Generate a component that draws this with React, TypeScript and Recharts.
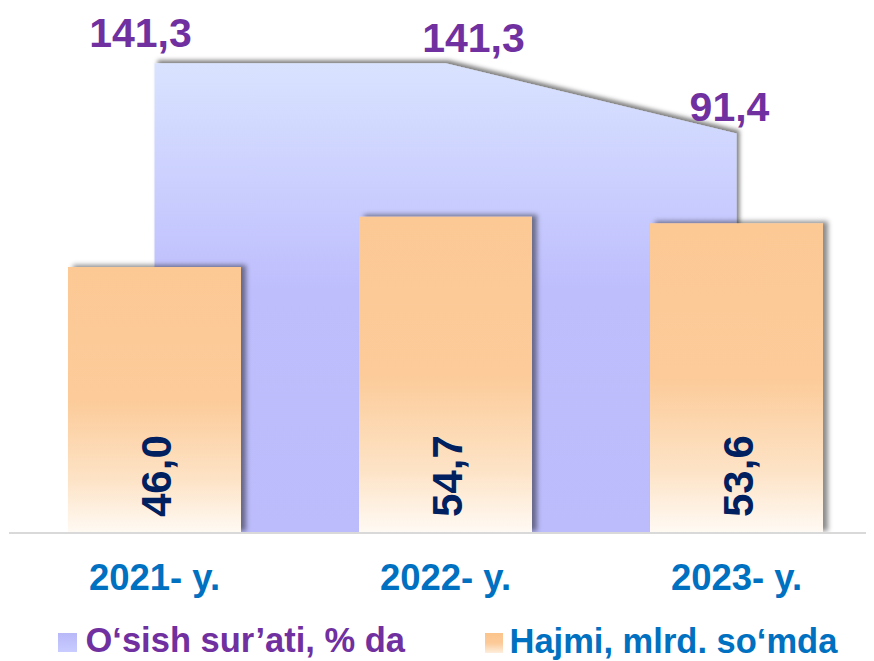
import React from 'react';
import { ComposedChart, Bar, Area, XAxis, YAxis, Legend, LabelList } from 'recharts';

const years = ['2021- y.', '2022- y.', '2023- y.'];
const volume = [46.0, 54.7, 53.6];
const growth = [141.3, 141.3, 91.4];
const seriesNames = ['O‘sish sur’ati, % da', 'Hajmi, mlrd. so‘mda'];

const data = years.map((year, i) => ({ year, volume: volume[i], growth: growth[i] }));

const FONT = '"Liberation Sans", Arial, Helvetica, sans-serif';
const fmt = (v: number) => Number(v).toFixed(1).replace('.', ',');

const GROWTH_LABEL_OFFSET = [
  { dx: -14, dy: -16 },
  { dx: 28, dy: -11 },
  { dx: -7, dy: -13 },
];

const GrowthLabel = (props: any) => {
  const vb = props.viewBox || {};
  const x = props.x ?? vb.x;
  const y = props.y ?? vb.y;
  const idx = props.index ?? 0;
  const o = GROWTH_LABEL_OFFSET[idx] ?? { dx: 0, dy: -12 };
  return (
    <text x={x + o.dx} y={y + o.dy} textAnchor="middle" fill="#7030a0" fontSize={41} fontWeight="bold" fontFamily={FONT}>
      {fmt(props.value)}
    </text>
  );
};

const VolumeLabel = (props: any) => {
  const vb = props.viewBox || {};
  const x = props.x ?? vb.x;
  const y = props.y ?? vb.y;
  const w = props.width ?? vb.width;
  const h = props.height ?? vb.height;
  const cx = x + w / 2 + 16;
  const cy = y + h - 16;
  return (
    <text x={cx} y={cy} transform={`rotate(-90 ${cx} ${cy})`} textAnchor="start" fill="#002060" fontSize={42} fontWeight="bold" fontFamily={FONT}>
      {fmt(props.value)}
    </text>
  );
};

const YearTick = (props: any) => {
  const { x, y, payload } = props;
  return (
    <text x={x} y={y + 57} textAnchor="middle" fill="#0070c0" fontSize={36.5} fontWeight="bold" fontFamily={FONT}>
      {payload.value}
    </text>
  );
};

const LegendContent = () => (
  <svg width={866} height={68} style={{ display: 'block', overflow: 'visible' }}>
    <defs>
      <linearGradient id="legArea" x1="0" y1="0" x2="0" y2="1">
        <stop offset="0" stopColor="#b8b8f8" />
        <stop offset="1" stopColor="#c8ccff" />
      </linearGradient>
      <linearGradient id="legBar" x1="0" y1="0" x2="0" y2="1">
        <stop offset="0" stopColor="#fcc48c" />
        <stop offset="0.5" stopColor="#fcca98" />
        <stop offset="1" stopColor="#fdeedd" />
      </linearGradient>
    </defs>
    <rect x={50} y={40} width={19} height={19} fill="url(#legArea)" />
    <text x={77.5} y={59} fill="#7030a0" fontSize={34.5} fontWeight="bold" fontFamily={FONT}>
      {seriesNames[0]}
    </text>
    <rect x={477} y={40} width={18} height={20} fill="url(#legBar)" />
    <text x={501.5} y={60} fill="#0070c0" fontSize={34.5} fontWeight="bold" fontFamily={FONT}>
      {seriesNames[1]}
    </text>
  </svg>
);

export default function App() {
  return (
    <div style={{ width: 866, height: 653 }}>
      <style>{'html,body{overflow:hidden}'}</style>
      <ComposedChart
        width={866}
        height={653}
        data={data}
        margin={{ top: 12, right: -8, bottom: 0, left: 1 }}
      >
        <defs>
          <linearGradient id="areaGrad" x1="0" y1="0" x2="0" y2="1">
            <stop offset="0" stopColor="#d9e3ff" />
            <stop offset="0.48" stopColor="#bebefd" />
            <stop offset="1" stopColor="#bcbcfc" />
          </linearGradient>
          <linearGradient id="barGrad" x1="0" y1="0" x2="0" y2="1">
            <stop offset="0" stopColor="#fcc995" />
            <stop offset="0.5" stopColor="#fccb99" />
            <stop offset="0.8" stopColor="#fde3c6" />
            <stop offset="1" stopColor="#fffaf4" />
          </linearGradient>
          <filter id="areaShadow" x="-10%" y="-10%" width="120%" height="120%">
            <feDropShadow dx="3" dy="-3" stdDeviation="2" floodColor="#000" floodOpacity="0.5" />
          </filter>
          <filter id="barShadow" x="-10%" y="-10%" width="125%" height="120%">
            <feDropShadow dx="5" dy="-2" stdDeviation="2.5" floodColor="#000" floodOpacity="0.45" />
          </filter>
        </defs>
        <XAxis
          dataKey="year"
          height={60}
          tickLine={false}
          tickSize={0}
          tickMargin={0}
          axisLine={{ stroke: '#d9d9d9', strokeWidth: 2 }}
          tick={<YearTick />}
          interval={0}
        />
        <YAxis yAxisId="v" hide domain={[0, 88.75]} allowDataOverflow />
        <YAxis yAxisId="g" hide domain={[-192, 172]} allowDataOverflow />
        <Area
          yAxisId="g"
          dataKey="growth"
          type="linear"
          stroke="none"
          fill="url(#areaGrad)"
          fillOpacity={1}
          baseValue="dataMin"
          filter="url(#areaShadow)"
          dot={false}
          activeDot={false}
          isAnimationActive={false}
        >
          <LabelList dataKey="growth" content={<GrowthLabel />} />
        </Area>
        <Bar
          yAxisId="v"
          dataKey="volume"
          barSize={173}
          fill="url(#barGrad)"
          filter="url(#barShadow)"
          isAnimationActive={false}
        >
          <LabelList dataKey="volume" content={<VolumeLabel />} />
        </Bar>
        <Legend
          verticalAlign="bottom"
          content={() => <LegendContent />}
          wrapperStyle={{ left: 0, width: 866, height: 68 }}
        />
      </ComposedChart>
    </div>
  );
}
